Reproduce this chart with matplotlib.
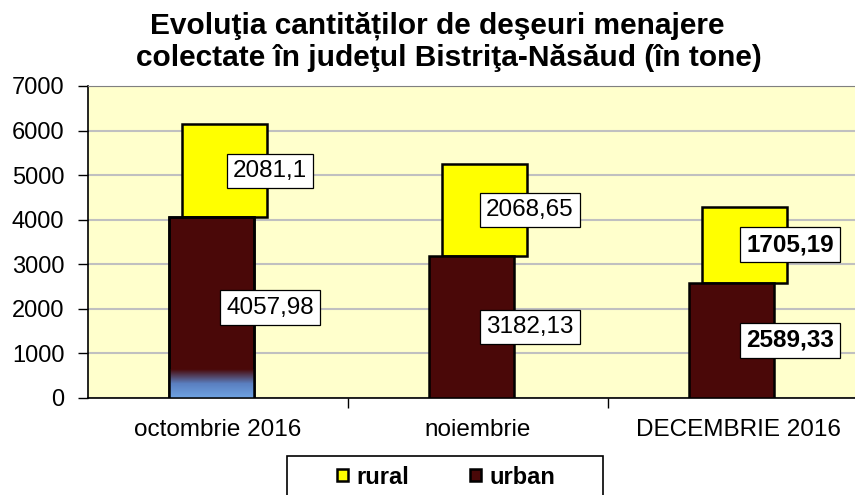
import matplotlib.pyplot as plt
import matplotlib.patches as patch
import numpy as np
from matplotlib.colors import LinearSegmentedColormap

plt.rcParams["font.family"] = ["Liberation Sans", "DejaVu Sans"]

categories = ["octombrie 2016", "noiembrie", "DECEMBRIE 2016"]
urban = [4057.98, 3182.13, 2589.33]
rural = [2081.1, 2068.65, 1705.19]
urban_labels = ["4057,98", "3182,13", "2589,33"]
rural_labels = ["2081,1", "2068,65", "1705,19"]
label_bold = [False, False, True]
yticks = [0, 1000, 2000, 3000, 4000, 5000, 6000, 7000]
title_lines = ["Evoluţia cantităților de deşeuri menajere",
               "colectate în judeţul Bistriţa-Năsăud (în tone)"]

YELLOW = "#FFFF00"
MAROON = "#4A0808"
BG = "#FFFFCC"

fig = plt.figure(figsize=(8.55, 4.95), dpi=100)
ax = fig.add_axes([88 / 855, 1 - 398 / 495, 780 / 855, 312 / 495])
ax.set_facecolor(BG)

x = np.arange(len(categories))
width = 0.327
shift = 0.025

ax.bar(x - shift, urban, width, color=MAROON, edgecolor="black", linewidth=1.8, zorder=3)
ax.bar(x + shift, rural, width, bottom=urban, color=YELLOW, edgecolor="black",
       linewidth=1.8, zorder=2)

# blue fade at the bottom of the first urban bar
cmap = LinearSegmentedColormap.from_list("fade", ["#6FA3E3", "#5A7FC0", MAROON])
grad = np.linspace(0, 1, 100).reshape(-1, 1)
ax.imshow(grad, cmap=cmap, aspect="auto", origin="lower", zorder=3.5,
          extent=(x[0] - shift - width / 2, x[0] - shift + width / 2, 0, 650))
ax.bar(x[0] - shift, urban[0], width, fill=False, edgecolor="black", linewidth=1.8, zorder=4)

box = dict(boxstyle="square,pad=0.25", facecolor="white", edgecolor="black", linewidth=0.9)
for i in range(len(categories)):
    fw = "bold" if label_bold[i] else "normal"
    ax.text(x[i] + 0.2, urban[i] / 2, urban_labels[i], ha="center", va="center",
            fontsize=17.5, fontweight=fw, bbox=box, zorder=6)
    ax.text(x[i] + 0.2, urban[i] + rural[i] / 2, rural_labels[i], ha="center", va="center",
            fontsize=17.5, fontweight=fw, bbox=box, zorder=6)

ax.set_xlim(-0.5, 2.5)
ax.set_ylim(0, 7000)
ax.set_yticks(yticks)
ax.tick_params(axis="y", labelsize=17, length=7, width=1, pad=10)
ax.yaxis.grid(True, color="#C0C0C0", linewidth=1.5, zorder=0)
ax.set_axisbelow(True)

ax.set_xticks([0.5, 1.5])
ax.set_xticklabels([])
ax.tick_params(axis="x", which="major", length=7, width=1)
ax.set_xticks(x, minor=True)
ax.set_xticklabels(categories, minor=True)
ax.tick_params(axis="x", which="minor", length=0, labelsize=17.5, pad=15)

ax.spines["top"].set_color("#808080")
ax.spines["right"].set_visible(False)
ax.spines["left"].set_linewidth(1.2)
ax.spines["bottom"].set_linewidth(1.2)

fig.text(437 / 855, 1 - 26 / 495, title_lines[0], ha="center", va="center",
         fontsize=21.5, fontweight="bold")
fig.text(449 / 855, 1 - 58 / 495, title_lines[1], ha="center", va="center",
         fontsize=21.5, fontweight="bold")

# legend frame (extends past the bottom edge like the reference)
fig.patches.append(patch.Rectangle((287 / 855, -0.05), 316 / 855, 0.05 + 39 / 495,
                                   transform=fig.transFigure, facecolor="white",
                                   edgecolor="black", linewidth=1.2, zorder=1))
handles = [patch.Patch(facecolor=YELLOW, edgecolor="black", linewidth=1.8, label="rural"),
           patch.Patch(facecolor=MAROON, edgecolor="black", linewidth=1.8, label="urban")]
fig.legend(handles=handles, loc="center", bbox_to_anchor=(446 / 855, 1 - 477 / 495),
           ncol=2, frameon=False, prop={"size": 17, "weight": "bold"},
           handlelength=0.45, handleheight=0.45, handletextpad=0.35, columnspacing=2.6,
           borderpad=0.2)

fig.savefig("out.png", dpi=100, facecolor="white")
